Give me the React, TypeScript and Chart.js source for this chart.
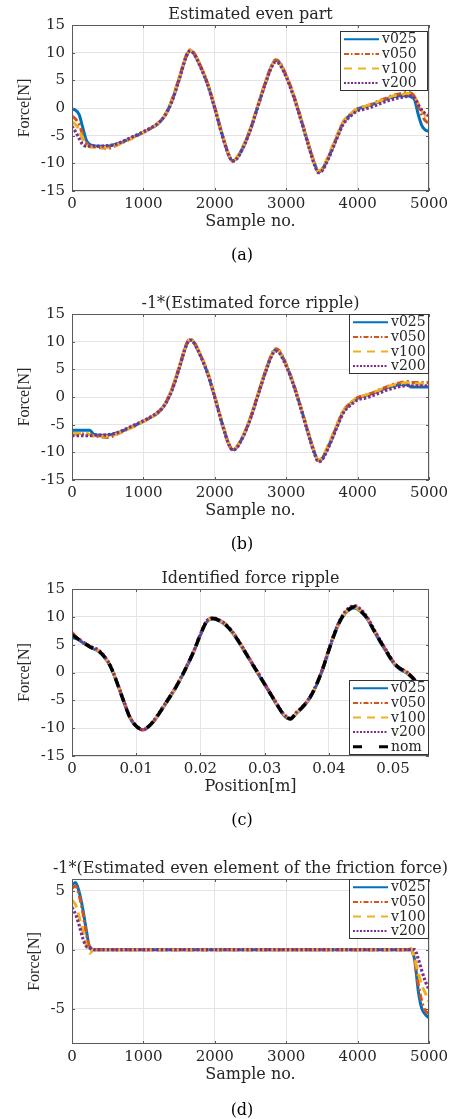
import React, { useEffect, useRef } from 'react';
import { Chart, registerables } from 'chart.js';

Chart.register(...registerables);

// ---------------- data ----------------
const SERIES_NAMES = ['v025', 'v050', 'v100', 'v200'];
const NOM_NAME = 'nom';

// tick values
const SAMPLE_TICKS = [0, 1000, 2000, 3000, 4000, 5000];
const POS_TICKS = [0, 0.01, 0.02, 0.03, 0.04, 0.05];
const FORCE_TICKS = [-15, -10, -5, 0, 5, 10, 15];
const FRICTION_TICKS = [-5, 0, 5];

// sample axis used by panels (a) and (b)
const X_SAMPLES = [0, 50, 100, 150, 200, 250, 300, 400, 500, 600, 700, 800, 900, 1000, 1100, 1200, 1300, 1400, 1500, 1600, 1650, 1700, 1800, 1900, 2000, 2100, 2200, 2250, 2300, 2400, 2500, 2600, 2700, 2800, 2850, 2900, 3000, 3100, 3200, 3300, 3400, 3450, 3500, 3600, 3700, 3800, 3900, 4000, 4100, 4200, 4300, 4400, 4500, 4600, 4700, 4750, 4800, 4850, 4900, 4950, 5000];

// shared middle part (samples 400..4700)
const MID_V025 = [-6.9, -6.9, -6.6, -6.2, -5.6, -5.0, -4.4, -3.7, -2.9, -1.4, 1.3, 5.2, 9.3, 10.3, 10.0, 7.5, 4.3, 0.0, -4.6, -8.6, -9.5, -9.2, -7.0, -3.8, 0.2, 4.2, 7.7, 8.6, 8.3, 5.8, 2.4, -1.7, -6.1, -10.2, -11.5, -11.2, -8.7, -5.6, -2.6, -1.2, -0.2, 0.2, 0.6, 1.1, 1.6, 2.0, 2.2, 2.2];
const MID_V050 = [-7.2, -7.3, -6.9, -6.3, -5.7, -5.1, -4.4, -3.7, -2.8, -1.3, 1.5, 5.4, 9.5, 10.5, 10.1, 7.6, 4.4, 0.1, -4.6, -8.6, -9.6, -9.1, -6.9, -3.7, 0.3, 4.3, 7.8, 8.7, 8.4, 5.9, 2.5, -1.6, -6.0, -10.1, -11.5, -11.1, -8.5, -5.4, -2.5, -1.1, -0.1, 0.3, 0.7, 1.3, 1.8, 2.3, 2.6, 2.8];
const MID_V100 = [-7.1, -7.1, -6.8, -6.3, -5.7, -5.0, -4.4, -3.7, -2.8, -1.3, 1.5, 5.4, 9.4, 10.4, 10.1, 7.7, 4.5, 0.2, -4.5, -8.5, -9.5, -9.1, -6.8, -3.6, 0.4, 4.4, 7.7, 8.5, 8.2, 5.8, 2.4, -1.7, -6.1, -10.2, -11.4, -11.0, -8.4, -5.3, -2.5, -1.1, -0.1, 0.3, 0.7, 1.2, 1.7, 2.2, 2.4, 2.6];
const MID_V200 = [-6.9, -6.8, -6.6, -6.1, -5.5, -4.9, -4.3, -3.6, -2.8, -1.4, 1.2, 5.1, 9.3, 10.3, 9.9, 7.4, 4.2, -0.1, -4.8, -8.7, -9.6, -9.3, -7.1, -3.9, 0.1, 4.1, 7.5, 8.3, 8.0, 5.6, 2.2, -1.9, -6.3, -10.4, -11.7, -11.4, -8.9, -5.8, -2.9, -1.5, -0.5, -0.2, 0.2, 0.7, 1.2, 1.6, 1.9, 2.1];

// panel (a): samples 0..300 and 4750..5000
const A_START_V025 = [-0.2, -0.4, -1.2, -3.5, -5.8, -6.6, -6.8];
const A_START_V050 = [-1.5, -2.0, -3.0, -4.8, -6.3, -6.9, -7.0];
const A_START_V100 = [-2.5, -3.0, -4.0, -5.6, -6.6, -7.0, -7.1];
const A_START_V200 = [-3.3, -4.3, -5.5, -6.6, -6.9, -6.9, -6.9];
const A_END_V025 = [2.0, 1.4, -1.2, -3.2, -4.0, -4.2];
const A_END_V050 = [2.7, 2.0, 0.3, -1.3, -2.3, -2.8];
const A_END_V100 = [2.5, 2.0, 0.8, -0.5, -1.3, -1.8];
const A_END_V200 = [2.2, 1.8, 0.6, -0.4, -1.0, -1.4];

// panel (b)
const B_START_V025 = [-6.0, -6.0, -6.0, -6.0, -6.0, -6.0, -6.7];
const B_START_V050 = [-6.7, -6.7, -6.7, -6.7, -6.7, -6.8, -7.0];
const B_START_V100 = [-6.6, -6.6, -6.6, -6.6, -6.6, -6.8, -7.1];
const B_START_V200 = [-7.0, -7.0, -7.0, -7.0, -7.0, -7.0, -6.9];
const B_END_V025 = [1.8, 1.8, 1.8, 1.8, 1.8, 1.8];
const B_END_V050 = [2.6, 2.6, 2.6, 2.6, 2.6, 2.6];
const B_END_V100 = [2.4, 2.4, 2.4, 2.4, 2.4, 2.4];
const B_END_V200 = [2.0, 2.0, 2.0, 2.0, 2.0, 2.0];

// panel (c): position [m]
const X_POS = [0, 0.001, 0.002, 0.003, 0.004, 0.005, 0.006, 0.007, 0.008, 0.009, 0.01, 0.011, 0.012, 0.013, 0.014, 0.015, 0.016, 0.017, 0.018, 0.019, 0.02, 0.021, 0.022, 0.023, 0.024, 0.025, 0.026, 0.027, 0.028, 0.029, 0.03, 0.031, 0.032, 0.033, 0.034, 0.035, 0.036, 0.037, 0.038, 0.039, 0.04, 0.041, 0.042, 0.043, 0.044, 0.045, 0.046, 0.047, 0.048, 0.049, 0.05, 0.051, 0.052, 0.053, 0.0535];
const C_V025 = [6.3, 5.9, 5.1, 4.4, 3.9, 2.8, 1.0, -1.9, -5.1, -8.1, -9.7, -10.3, -9.7, -8.4, -6.7, -4.9, -3.1, -1.0, 1.3, 3.8, 6.7, 9.1, 9.6, 9.2, 8.4, 7.1, 5.4, 3.5, 1.6, -0.3, -2.2, -4.1, -6.0, -7.7, -8.4, -7.3, -6.2, -4.7, -2.5, 0.4, 3.9, 7.2, 9.7, 11.1, 11.6, 10.9, 9.6, 7.5, 5.5, 3.6, 1.8, 0.6, 0.0, -1.0, -1.7];
const C_V050 = [7.2, 6.1, 5.3, 4.5, 4.0, 2.9, 1.1, -1.7, -4.9, -7.9, -9.6, -10.3, -9.7, -8.3, -6.5, -4.7, -2.9, -0.8, 1.5, 4.0, 6.9, 9.3, 9.8, 9.4, 8.6, 7.3, 5.6, 3.7, 1.8, -0.1, -2.0, -3.9, -5.8, -7.6, -8.4, -7.2, -6.0, -4.5, -2.3, 0.6, 4.1, 7.4, 9.9, 11.3, 11.8, 11.1, 9.8, 7.7, 5.7, 3.8, 2.0, 0.8, 0.2, -0.8, -1.5];
const C_V100 = [6.9, 6.0, 5.2, 4.5, 4.0, 2.9, 1.1, -1.8, -5.0, -8.0, -9.6, -10.2, -9.6, -8.3, -6.6, -4.8, -3.0, -0.9, 1.4, 3.9, 6.8, 9.2, 9.7, 9.3, 8.5, 7.2, 5.5, 3.6, 1.7, -0.2, -2.1, -4.0, -5.9, -7.6, -8.3, -7.2, -6.1, -4.6, -2.4, 0.5, 4.0, 7.3, 9.8, 11.2, 11.7, 11.0, 9.7, 7.6, 5.6, 3.7, 1.9, 0.7, 0.1, -0.9, -1.6];
const C_V200 = [6.8, 6.0, 5.2, 4.6, 4.1, 3.0, 1.2, -1.7, -4.9, -8.0, -9.7, -10.3, -9.6, -8.2, -6.5, -4.7, -2.9, -0.8, 1.5, 4.0, 6.9, 9.3, 9.8, 9.4, 8.6, 7.3, 5.6, 3.7, 1.8, -0.1, -2.0, -3.9, -5.8, -7.5, -8.2, -7.1, -6.0, -4.5, -2.3, 0.6, 4.2, 7.5, 10.0, 11.5, 12.0, 11.3, 9.9, 7.8, 5.8, 3.9, 2.0, 0.8, 0.2, -0.8, -1.5];
const C_NOM = [6.8, 6.0, 5.2, 4.5, 4.0, 2.9, 1.1, -1.8, -5.0, -8.0, -9.6, -10.2, -9.6, -8.3, -6.6, -4.8, -3.0, -0.9, 1.4, 3.9, 6.8, 9.2, 9.7, 9.3, 8.5, 7.2, 5.5, 3.6, 1.7, -0.2, -2.1, -4.0, -5.9, -7.6, -8.3, -7.2, -6.1, -4.6, -2.4, 0.5, 4.0, 7.3, 9.8, 11.2, 11.8, 11.0, 9.7, 7.6, 5.6, 3.7, 1.9, 0.8, 0.1, -0.9, -1.6];

// panel (d)
const X_D = [0, 50, 100, 150, 200, 250, 300, 4700, 4750, 4800, 4850, 4900, 4950, 5000];
const D_V025 = [5.5, 5.7, 4.9, 3.5, 1.7, 0.1, 0, 0, 0, -0.9, -3.5, -5.0, -5.5, -5.8];
const D_V050 = [5.2, 5.4, 4.6, 3.2, 1.4, 0.2, 0, 0, 0, -1.0, -2.9, -4.4, -5.2, -5.4];
const D_V100 = [4.2, 3.8, 2.8, 1.6, 0.4, -0.3, 0, 0, 0.1, -0.8, -2.0, -3.0, -3.7, -4.4];
const D_V200 = [3.6, 3.0, 2.1, 1.0, 0.3, 0.2, 0, 0, 0, 0, -0.8, -1.8, -2.7, -3.4];

// ---------------- styles ----------------
const WIDE_SERIF = "'DejaVu Serif', serif";
const TIMES = "'Liberation Serif', 'Times New Roman', serif";
const TEXT_COLOR = '#262626';
const GRID_COLOR = '#e4e4e4';
const BOX_COLOR = '#5a5a5a';

const STYLES = [
  { color: '#0072BD', dash: [] as number[], width: 3, legDash: [] as number[] },
  { color: '#D95319', dash: [7, 3, 2, 3], width: 3, legDash: [5, 2, 1.5, 2] },
  { color: '#EDB120', dash: [9, 5], width: 3, legDash: [8, 6] },
  { color: '#7E2F8E', dash: [2.5, 2], width: 3.2, legDash: [2, 1.5] },
  { color: '#000000', dash: [9, 7], width: 3.4, legDash: [9, 17] },
];

interface LegendCfg { right: number; top?: number; bottom?: number; w: number; h: number }
interface PanelCfg {
  top: number; height: number; padTop: number; padBottom: number;
  title: string; xTitle: string; yTitle: string; yTitleX: number;
  xMin: number; xMax: number; xTicks: number[];
  yMin: number; yMax: number; yTicks: number[];
  xs: number[]; series: number[][]; names: string[];
  legend: LegendCfg;
}

const PANELS: PanelCfg[] = [
  {
    top: 0, height: 270, padTop: 25, padBottom: 49,
    title: 'Estimated even part', xTitle: 'Sample no.', yTitle: 'Force[N]', yTitleX: 25,
    xMin: 0, xMax: 5000, xTicks: SAMPLE_TICKS, yMin: -15, yMax: 15, yTicks: FORCE_TICKS,
    xs: X_SAMPLES,
    series: [
      [...A_START_V025, ...MID_V025, ...A_END_V025],
      [...A_START_V050, ...MID_V050, ...A_END_V050],
      [...A_START_V100, ...MID_V100, ...A_END_V100],
      [...A_START_V200, ...MID_V200, ...A_END_V200],
    ],
    names: SERIES_NAMES,
    legend: { right: 1, top: 6, w: 88, h: 60 },
  },
  {
    top: 270, height: 280, padTop: 44, padBottom: 40,
    title: '-1*(Estimated force ripple)', xTitle: 'Sample no.', yTitle: 'Force[N]', yTitleX: 25,
    xMin: 0, xMax: 5000, xTicks: SAMPLE_TICKS, yMin: -15, yMax: 15, yTicks: FORCE_TICKS,
    xs: X_SAMPLES,
    series: [
      [...B_START_V025, ...MID_V025, ...B_END_V025],
      [...B_START_V050, ...MID_V050, ...B_END_V050],
      [...B_START_V100, ...MID_V100, ...B_END_V100],
      [...B_START_V200, ...MID_V200, ...B_END_V200],
    ],
    names: SERIES_NAMES,
    legend: { right: 0, top: 0, w: 80, h: 60 },
  },
  {
    top: 550, height: 280, padTop: 39, padBottom: 44,
    title: 'Identified force ripple', xTitle: 'Position[m]', yTitle: 'Force[N]', yTitleX: 25,
    xMin: 0, xMax: 0.0556, xTicks: POS_TICKS, yMin: -15, yMax: 15, yTicks: FORCE_TICKS,
    xs: X_POS,
    series: [C_V025, C_V050, C_V100, C_V200, C_NOM],
    names: [...SERIES_NAMES, NOM_NAME],
    legend: { right: 0, bottom: 1, w: 80, h: 75 },
  },
  {
    top: 830, height: 289, padTop: 49, padBottom: 45,
    title: '-1*(Estimated even element of the friction force)', xTitle: 'Sample no.', yTitle: 'Force[N]', yTitleX: 34.5,
    xMin: 0, xMax: 5000, xTicks: SAMPLE_TICKS, yMin: -8, yMax: 6, yTicks: FRICTION_TICKS,
    xs: X_D,
    series: [D_V025, D_V050, D_V100, D_V200],
    names: SERIES_NAMES,
    legend: { right: 0, top: 0, w: 80, h: 60 },
  },
];

const CAPTIONS = [
  { text: '(a)', y: 255 },
  { text: '(b)', y: 544 },
  { text: '(c)', y: 820 },
  { text: '(d)', y: 1110 },
];

const fmt = (v: number) => String(+Number(v).toFixed(4));

function makeDecor(cfg: PanelCfg) {
  return {
    id: 'matlabDecor',
    afterDraw(chart: any) {
      const { ctx, chartArea: a } = chart;
      ctx.save();
      // axes box
      ctx.strokeStyle = BOX_COLOR;
      ctx.lineWidth = 1;
      ctx.setLineDash([]);
      ctx.strokeRect(Math.round(a.left) + 0.5, Math.round(a.top) + 0.5, Math.round(a.right - a.left) - 1, Math.round(a.bottom - a.top) - 1);
      // inward ticks
      const tl = 3;
      ctx.beginPath();
      for (const t of chart.scales.x.ticks) {
        const px = Math.round(chart.scales.x.getPixelForValue(t.value)) + 0.5;
        ctx.moveTo(px, a.bottom); ctx.lineTo(px, a.bottom - tl);
        ctx.moveTo(px, a.top); ctx.lineTo(px, a.top + tl);
      }
      for (const t of chart.scales.y.ticks) {
        const py = Math.round(chart.scales.y.getPixelForValue(t.value)) + 0.5;
        ctx.moveTo(a.left, py); ctx.lineTo(a.left + tl, py);
        ctx.moveTo(a.right, py); ctx.lineTo(a.right - tl, py);
      }
      ctx.stroke();

      // titles
      ctx.fillStyle = TEXT_COLOR;
      ctx.textAlign = 'center';
      ctx.textBaseline = 'middle';
      ctx.font = `16px ${WIDE_SERIF}`;
      const cx = (a.left + a.right) / 2;
      ctx.fillText(cfg.title, cx, a.top - 10);
      ctx.fillText(cfg.xTitle, cx, a.bottom + 31);
      ctx.save();
      ctx.translate(cfg.yTitleX, (a.top + a.bottom) / 2);
      ctx.rotate(-Math.PI / 2);
      ctx.font = `16px ${TIMES}`;
      ctx.fillText(cfg.yTitle, 0, 0);
      ctx.restore();

      // legend
      const L = cfg.legend;
      const lx = Math.round(a.right - L.right - L.w);
      const ly = L.top !== undefined ? Math.round(a.top + L.top) : Math.round(a.bottom - (L.bottom || 0) - L.h);
      ctx.fillStyle = '#ffffff';
      ctx.fillRect(lx, ly, L.w, L.h);
      ctx.strokeStyle = '#333333';
      ctx.lineWidth = 1;
      ctx.strokeRect(lx + 0.5, ly + 0.5, L.w - 1, L.h - 1);
      chart.data.datasets.forEach((ds: any, i: number) => {
        const st = STYLES[ds.styleIndex];
        const ry = ly + 8.3 + i * 14.6;
        ctx.strokeStyle = st.color;
        ctx.lineWidth = ds.styleIndex === 4 ? 3 : 2;
        ctx.setLineDash(st.legDash);
        ctx.beginPath();
        ctx.moveTo(lx + 4, ry);
        ctx.lineTo(lx + 39, ry);
        ctx.stroke();
        ctx.setLineDash([]);
        ctx.fillStyle = TEXT_COLOR;
        ctx.textAlign = 'left';
        ctx.font = `14px ${WIDE_SERIF}`;
        ctx.fillText(ds.label, lx + 42, ry + 0.5);
      });
      ctx.restore();
    },
  };
}

function PanelChart({ cfg }: { cfg: PanelCfg }) {
  const ref = useRef<HTMLCanvasElement>(null);
  useEffect(() => {
    const canvas = ref.current;
    if (!canvas) return;
    const n = cfg.series.length;
    const datasets = cfg.series.map((ys, i) => {
      const st = STYLES[i];
      return {
        label: cfg.names[i],
        styleIndex: i,
        data: cfg.xs.map((x, j) => ({ x, y: ys[j] })),
        borderColor: st.color,
        backgroundColor: st.color,
        borderDash: st.dash,
        borderWidth: st.width,
        pointRadius: 0,
        fill: false,
        cubicInterpolationMode: 'monotone',
        order: n - i,
      };
    });
    const tickFont = { family: WIDE_SERIF, size: 15 };
    const chart = new Chart(canvas, {
      type: 'line',
      data: { datasets } as any,
      options: {
        animation: false,
        responsive: false,
        maintainAspectRatio: false,
        events: [],
        layout: { padding: { left: 0, right: 30, top: cfg.padTop, bottom: cfg.padBottom } },
        plugins: { legend: { display: false }, title: { display: false }, tooltip: { enabled: false } },
        scales: {
          x: {
            type: 'linear',
            min: cfg.xMin,
            max: cfg.xMax,
            afterFit: (s: any) => { s.height = 30; },
            afterBuildTicks: (s: any) => { s.ticks = cfg.xTicks.map((v) => ({ value: v })); },
            ticks: { font: tickFont, color: TEXT_COLOR, padding: 4, maxRotation: 0, autoSkip: false, callback: (v: any) => fmt(v) },
            grid: { color: GRID_COLOR, drawTicks: false, lineWidth: 1 },
            border: { display: false },
          },
          y: {
            type: 'linear',
            min: cfg.yMin,
            max: cfg.yMax,
            afterFit: (s: any) => { s.width = 72; },
            afterBuildTicks: (s: any) => { s.ticks = cfg.yTicks.map((v) => ({ value: v })); },
            ticks: { font: tickFont, color: TEXT_COLOR, padding: 7, autoSkip: false, callback: (v: any) => fmt(v) },
            grid: { color: GRID_COLOR, drawTicks: false, lineWidth: 1 },
            border: { display: false },
          },
        },
      } as any,
      plugins: [makeDecor(cfg)],
    });
    return () => chart.destroy();
  }, [cfg]);
  return (
    <canvas
      ref={ref}
      width={459}
      height={cfg.height}
      style={{ position: 'absolute', left: 0, top: cfg.top, width: 459, height: cfg.height, display: 'block' }}
    />
  );
}

export default function App() {
  return (
    <div style={{ position: 'absolute', left: 0, top: 0, width: 459, height: 1119, background: '#ffffff', overflow: 'hidden' }}>
      {PANELS.map((p, i) => (
        <PanelChart key={i} cfg={p} />
      ))}
      {CAPTIONS.map((c) => (
        <div
          key={c.text}
          style={{
            position: 'absolute', left: 0, width: 484, top: c.y - 10, height: 20, lineHeight: '20px',
            textAlign: 'center', fontFamily: WIDE_SERIF, fontSize: 16, color: '#000',
          }}
        >
          {c.text}
        </div>
      ))}
    </div>
  );
}
